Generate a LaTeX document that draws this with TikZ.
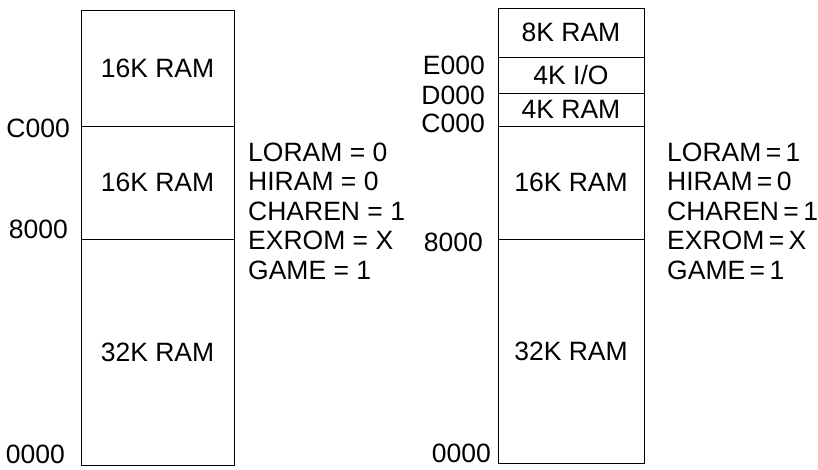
\documentclass[tikz,border=0pt]{standalone}
\usepackage{fontspec}
\setmainfont{Liberation Sans}
\usetikzlibrary{positioning}

\begin{document}
\begin{tikzpicture}[x=1pt,y=-1pt]
	 \tikzstyle{region}=[draw,line width=0.8pt,inner sep=0pt,font=\fontsize{26.5}{30}\selectfont]
	 \tikzstyle{addr}=[anchor=east,inner sep=0pt,font=\fontsize{26.5}{30}\selectfont]
	 \tikzstyle{flags}=[anchor=west,inner sep=0pt,align=left,font=\fontsize{26.5}{29.5}\selectfont]
	 \useasboundingbox (0,0) rectangle (818,469);

	 % left map
	 \node[region,minimum width=153pt,minimum height=116pt] (l16hi) at (157.5,68) {16K RAM};
	 \node[region,minimum width=153pt,minimum height=113pt] (l16lo) at (157.5,182.5) {16K RAM};
	 \node[region,minimum width=153pt,minimum height=226pt] (l32) at (157.5,352) {32K RAM};
	 \node[addr] (lc000) at (70,128) {C000};
	 \node[addr] (l8000) at (68,229) {8000};
	 \node[addr] (l0000) at (65,454) {0000};
	 \node[flags] (lbits) at (248,211) {LORAM = 0\\HIRAM = 0\\CHAREN = 1\\EXROM = X\\GAME = 1};

	 % right map
	 \node[region,minimum width=146pt,minimum height=49pt] (r8k) at (571,32.5) {8K RAM};
	 \node[region,minimum width=146pt,minimum height=36pt] (rio) at (571,75) {4K I/O};
	 \node[region,minimum width=146pt,minimum height=33pt] (r4k) at (571,109.5) {4K RAM};
	 \node[region,minimum width=146pt,minimum height=113pt] (r16) at (571,182.5) {16K RAM};
	 \node[region,minimum width=146pt,minimum height=224pt] (r32) at (571,351) {32K RAM};
	 \node[addr] (re000) at (485,65) {E000};
	 \node[addr] (rd000) at (485,95) {D000};
	 \node[addr] (rc000) at (485,123) {C000};
	 \node[addr] (r8000) at (483,242) {8000};
	 \node[addr] (r0000) at (491,453) {0000};
	 \node[flags] (rbits) at (667,211) {LORAM\,=\,1\\HIRAM\,=\,0\\CHAREN\,=\,1\\EXROM\,=\,X\\GAME\,=\,1};
\end{tikzpicture}
\end{document}
